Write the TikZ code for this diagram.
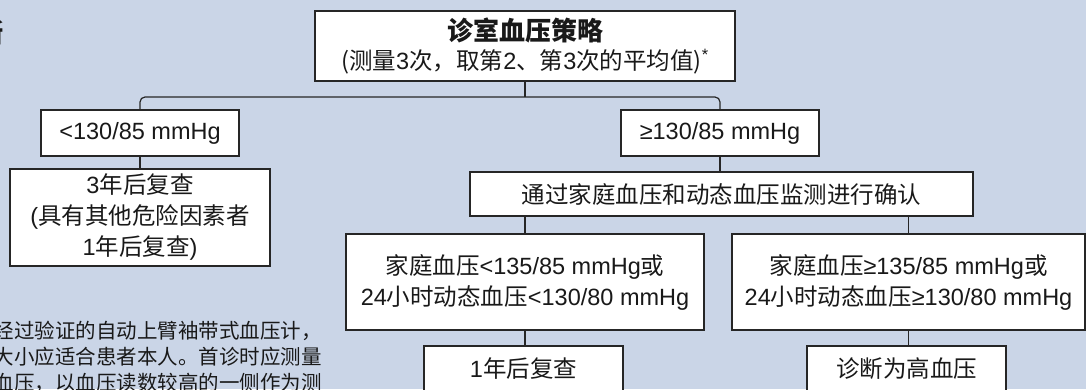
\documentclass[tikz,border=0pt]{standalone}
\usepackage{fontspec}
\setmainfont{Noto Sans CJK SC}
\newfontfamily\lat{Liberation Sans}
\definecolor{bg}{RGB}{202,213,231}
\definecolor{ln}{RGB}{38,38,38}
\definecolor{tx}{RGB}{25,25,25}
\begin{document}
\begin{tikzpicture}[x=1pt,y=-1pt,
  box/.style={draw=ln, line width=1.4pt, fill=white, inner sep=0pt, align=center,
    font=\fontsize{23.5}{31}\selectfont, text=tx},
  conn/.style={draw=ln, line width=1.2pt},
  note/.style={anchor=east, inner sep=0pt, font=\fontsize{20.5}{26}\selectfont, text=tx}]
\fill[bg] (0,0) rectangle (1086,389);
\useasboundingbox (0,0) rectangle (1086,389);
\clip (0,0) rectangle (1086,389);

% partial title at the left edge
\node[anchor=east, inner sep=0pt, font=\fontsize{26}{30}\selectfont\bfseries, text=tx] (ttl) at (4,33) {断};

% boxes
\node[box, minimum width=420pt, minimum height=70pt] (top) at (525,46)
  {{\fontsize{26}{28}\selectfont\bfseries 诊室血压策略}\\[-2pt]
   ({}测量{\lat 3}次，取第{\lat 2}、第{\lat 3}次的平均值){\lat\textsuperscript{*}}};
\node[box, minimum width=198pt, minimum height=46pt] (lt) at (140,133) {\lat <130/85 mmHg};
\node[box, minimum width=198pt, minimum height=46pt] (ge) at (720,133) {\lat ≥130/85 mmHg};
\node[box, minimum width=260pt, minimum height=97pt] (three) at (140,217.5)
  {{\lat 3}年后复查\\{\lat (}具有其他危险因素者\\{\lat 1}年后复查{\lat )}};
\node[box, minimum width=503pt, minimum height=44pt] (conf) at (721.5,194) {通过家庭血压和动态血压监测进行确认};
\node[box, minimum width=358pt, minimum height=96pt] (homeL) at (525,282)
  {家庭血压{\lat <135/85 mmHg}或\\{\lat 24}小时动态血压{\lat <130/80 mmHg}};
\node[box, minimum width=353pt, minimum height=96pt] (homeR) at (908.5,282)
  {家庭血压{\lat ≥135/85 mmHg}或\\{\lat 24}小时动态血压{\lat ≥130/80 mmHg}};
\node[box, minimum width=199pt, minimum height=46pt] (one) at (523.5,369) {{\lat 1}年后复查};
\node[box, minimum width=199pt, minimum height=46pt] (diag) at (906.5,369) {诊断为高血压};

% connectors
\coordinate (bus) at (522,97);
\draw[conn] (top.south) -- (top.south |- bus);
\draw[conn, rounded corners=5pt] (lt.north) -- (lt.north |- bus) -- (ge.north |- bus) -- (ge.north);
\draw[conn] (lt.south) -- (three.north);
\draw[conn] (ge.south) -- (ge.south |- conf.north);
\draw[conn] (homeL.north) -- (homeL.north |- conf.south);
\draw[conn] (homeR.north) -- (homeR.north |- conf.south);
\draw[conn] (homeL.south) -- (homeL.south |- one.north);
\draw[conn] (homeR.south) -- (homeR.south |- diag.north);

% note text, clipped at the left edge
\node[note] (n1) at (322,331) {经过验证的自动上臂袖带式血压计，};
\node[note] (n2) at (322,357) {大小应适合患者本人。首诊时应测量};
\node[note] (n3) at (322,383) {血压，以血压读数较高的一侧作为测};
\end{tikzpicture}
\end{document}
